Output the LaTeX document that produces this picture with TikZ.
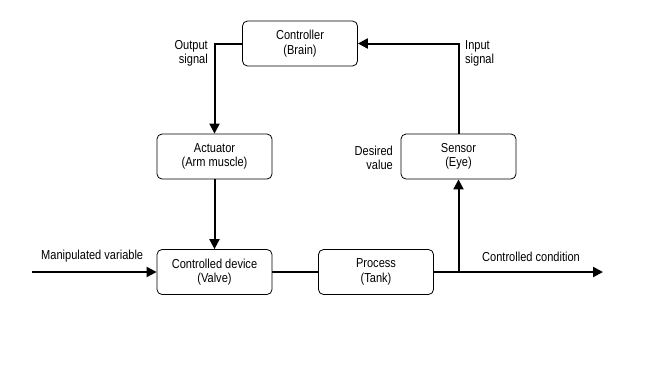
\documentclass[tikz,border=0pt]{standalone}
\usepackage{fontspec}
\setmainfont{Liberation Sans}[FakeStretch=0.85]
\usetikzlibrary{arrows.meta}

\tikzset{
  unit/.style={draw, rounded corners=5pt, line width=0.8pt, minimum width=115pt,
    minimum height=45pt, align=center, font=\fontsize{13}{14.5}\selectfont},
  flow/.style={line width=2pt},
  tip/.style={-{Triangle[length=10pt,width=10pt]}},
  lbl/.style={font=\fontsize{13}{14.5}\selectfont, inner sep=0pt}
}

\begin{document}
\begin{tikzpicture}[x=1pt,y=1pt]
\useasboundingbox (0,0) rectangle (648,-384);
% blocks
\node[unit] (ctrl) at (300,-43.5) {Controller\\(Brain)};
\node[unit] (act) at (214.5,-156.5) {Actuator\\(Arm muscle)};
\node[unit] (dev) at (214.5,-272) {Controlled device\\(Valve)};
\node[unit] (proc) at (376,-272) {Process\\(Tank)};
\node[unit] (sens) at (458.5,-156.5) {Sensor\\(Eye)};
\coordinate (in) at (32,-272);
\coordinate (out) at (603,-272);
\coordinate (tap) at (sens.south |- proc.east);
% signals
\draw[flow,tip] (ctrl.west) -| (act.north);
\draw[flow,tip] (act) -- (dev);
\draw[flow,tip] (in) -- (dev);
\draw[flow] (dev) -- (proc);
\draw[flow,tip] (proc) -- (out);
\draw[flow,tip] (tap) -- (sens);
\draw[flow,tip] (sens.north) |- (ctrl.east);
% labels
\node[lbl, align=right, anchor=east] (outsig) at (208,-53.5) {Output\\signal};
\node[lbl, align=left, anchor=west] (insig) at (465,-53.5) {Input\\signal};
\node[lbl, align=right, anchor=east] (desired) at (393,-158) {Desired\\value};
\node[lbl, anchor=west] (manip) at (41,-256) {Manipulated variable};
\node[lbl, anchor=west] (cond) at (482,-257) {Controlled condition};
\end{tikzpicture}
\end{document}
